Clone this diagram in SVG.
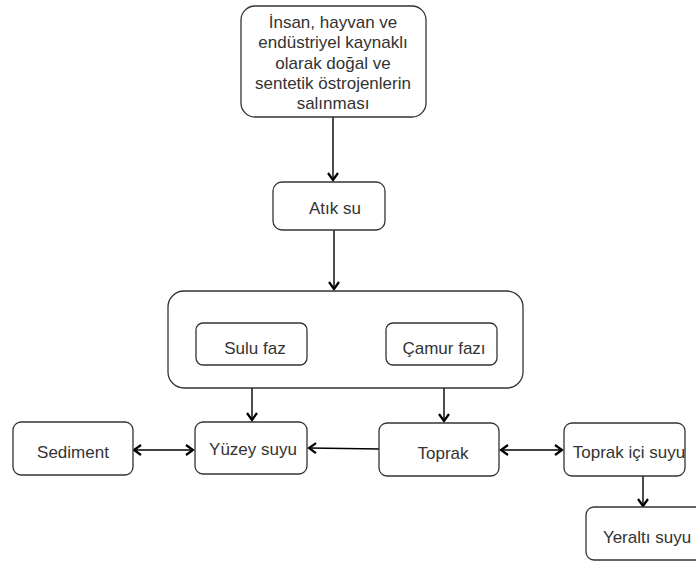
<svg xmlns="http://www.w3.org/2000/svg" width="696" height="563" viewBox="0 0 696 563">
<defs>
<style>
.box{fill:#fff;stroke:#333;stroke-width:1.3}
.t{font-family:"Liberation Sans",Arial,sans-serif;font-size:17px;fill:#333;text-anchor:middle}
.c{stroke:#000;stroke-width:1.4;fill:none}
</style>
<marker id="ah" viewBox="0 0 12 12" refX="10" refY="6" markerWidth="12" markerHeight="12" markerUnits="userSpaceOnUse" orient="auto-start-reverse">
<path d="M3,1 L10,6 L3,11" fill="none" stroke="#000" stroke-width="2.2" stroke-linejoin="miter"/>
</marker>
</defs>
<rect width="696" height="563" fill="#fff"/>
<g id="connectors">
<line class="c" x1="333" y1="117" x2="333" y2="180" marker-end="url(#ah)"/>
<line class="c" x1="334" y1="230" x2="334" y2="289" marker-end="url(#ah)"/>
<line class="c" x1="252" y1="365" x2="252" y2="420" marker-end="url(#ah)"/>
<line class="c" x1="444" y1="365" x2="444" y2="421" marker-end="url(#ah)"/>
<line class="c" x1="134" y1="450" x2="193" y2="450" marker-start="url(#ah)" marker-end="url(#ah)"/>
<line class="c" x1="380" y1="449" x2="309" y2="448" marker-end="url(#ah)"/>
<line class="c" x1="501" y1="450" x2="562" y2="450" marker-start="url(#ah)" marker-end="url(#ah)"/>
<line class="c" x1="643" y1="476" x2="643" y2="506" marker-end="url(#ah)"/>
</g>
<g id="source">
<rect class="box" x="241" y="6" width="185" height="111" rx="14"/>
<text class="t" x="333" y="28">İnsan, hayvan ve</text>
<text class="t" x="333" y="48">endüstriyel kaynaklı</text>
<text class="t" x="333" y="69">olarak doğal ve</text>
<text class="t" x="333" y="89">sentetik östrojenlerin</text>
<text class="t" x="333" y="109">salınması</text>
</g>
<g id="atik-su">
<rect class="box" x="273" y="182" width="112" height="48" rx="9"/>
<text class="t" x="335" y="214">Atık su</text>
</g>
<g id="group-box">
<rect class="box" x="168" y="291" width="355" height="97" rx="16"/>
</g>
<g id="sulu-faz">
<rect class="box" x="196" y="323" width="111" height="42" rx="7"/>
<text class="t" x="255" y="354">Sulu faz</text>
</g>
<g id="camur-fazi">
<rect class="box" x="386" y="323" width="111" height="42" rx="7"/>
<text class="t" x="444" y="354">Çamur fazı</text>
</g>
<g id="sediment">
<rect class="box" x="13" y="422" width="120" height="53" rx="8"/>
<text class="t" x="73" y="458">Sediment</text>
</g>
<g id="yuzey-suyu">
<rect class="box" x="195" y="422" width="112" height="52" rx="8"/>
<text class="t" x="253" y="455">Yüzey suyu</text>
</g>
<g id="toprak">
<rect class="box" x="379" y="423" width="120" height="53" rx="8"/>
<text class="t" x="443" y="459">Toprak</text>
</g>
<g id="toprak-ici-suyu">
<rect class="box" x="564" y="423" width="121" height="53" rx="8"/>
<text class="t" x="629" y="458">Toprak içi suyu</text>
</g>
<g id="yeralti-suyu">
<rect class="box" x="586" y="507" width="120" height="53" rx="8"/>
<text class="t" x="647" y="543">Yeraltı suyu</text>
</g>
</svg>
